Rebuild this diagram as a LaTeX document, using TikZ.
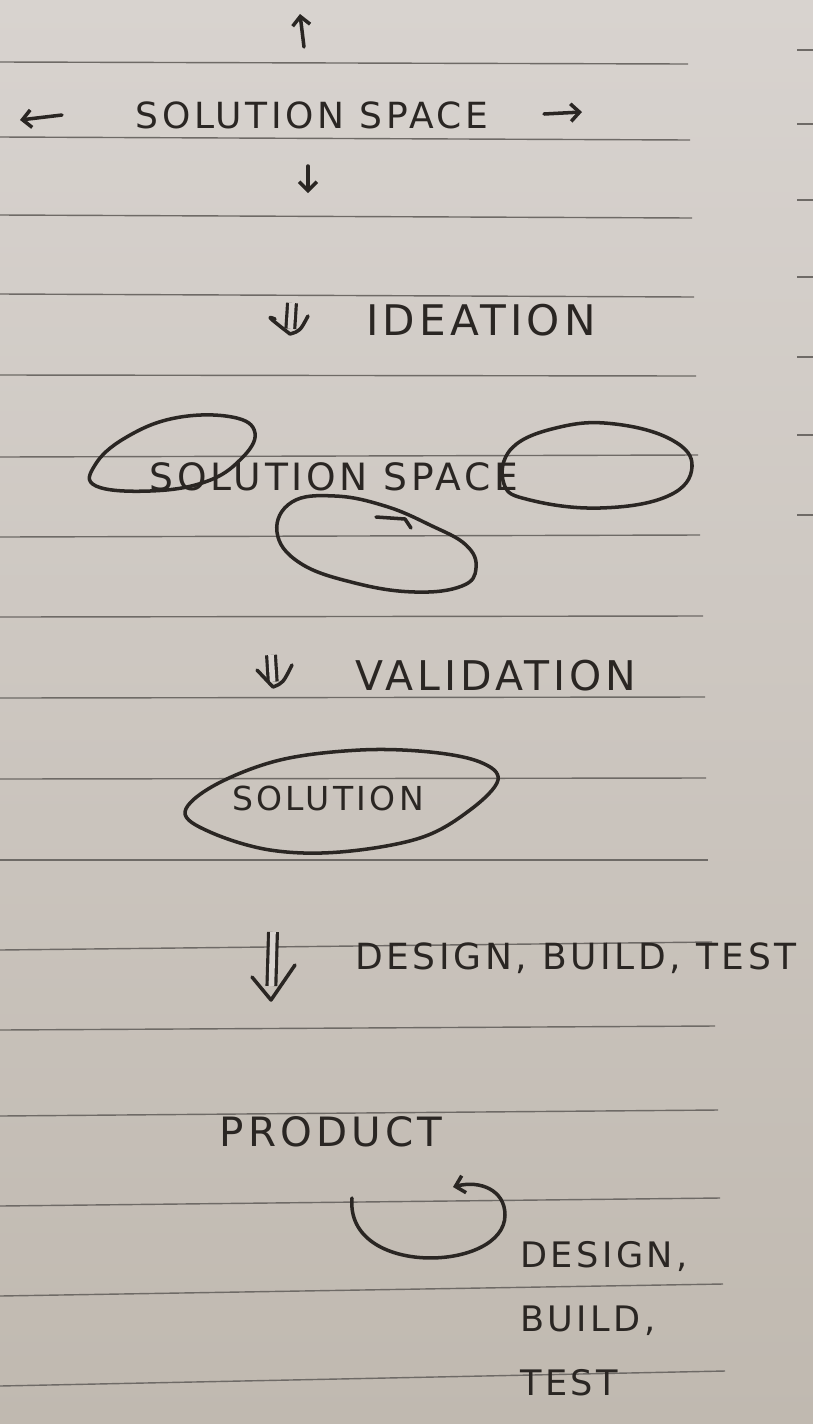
\documentclass[tikz,border=0pt]{standalone}
\usepackage{fontspec}
\usepackage{tikz}
\usetikzlibrary{arrows.meta}
\newfontfamily\handfont[LetterSpace=10]{DejaVu Sans}
\definecolor{paper}{HTML}{D8D3CF}
\definecolor{paperlow}{HTML}{C0B9B0}
\definecolor{rule}{HTML}{6E6A66}
\definecolor{ink}{HTML}{2A2623}
\tikzset{
  ruling/.style={draw=rule, line width=0.8pt},
  pen/.style={draw=ink, line width=2pt, line cap=round, line join=round},
  arr/.style={pen, -{Straight Barb[length=5pt,width=10pt]}},
  dblShaft/.style={draw=ink, line width=1.8pt, double=paper, double distance=3.2pt,
    shorten >=3pt},
  handLbl/.style={text=ink, inner sep=1pt, font=\handfont\fontsize{#1}{36.5}\selectfont},
  handLbl/.default=21,
}

\begin{document}
\begin{tikzpicture}[x=0.02cm, y=-0.02cm]
  \useasboundingbox (0,0) rectangle (813,1424);
  \shade[top color=paper, bottom color=paperlow] (0,0) rectangle (813,1424);

  % ruled paper
  \foreach \yl/\yr/\xr in {62/64/688, 137/140/690, 215/218/692, 294/297/694,
      375/376/696, 457/455/698, 537/535/700, 617/616/703, 698/697/705,
      779/778/706, 860/860/708, 950/942/712, 1030/1026/715, 1116/1110/718,
      1206/1198/720, 1296/1284/723, 1386/1371/725}
    \draw[ruling] (0,\yl) -- (\xr,\yr);
  \foreach \ys in {50,124,200,277,357,435,515}
    \draw[ruling] (797,\ys) -- (813,\ys);

  % solution space, spreading out
  \node[handLbl=20.5] (spaceTop) at (312,115) {SOLUTION SPACE};
  \coordinate (upTail) at (304,47);     \coordinate (upHead) at (300,14);
  \coordinate (leftTail) at (62,115);   \coordinate (leftHead) at (20,120);
  \coordinate (rightTail) at (544,114); \coordinate (rightHead) at (582,112);
  \coordinate (downTail) at (308,166);  \coordinate (downHead) at (308,193);
  \draw[arr] (upTail) -- (upHead);
  \draw[arr] (leftTail) -- (leftHead);
  \draw[arr] (rightTail) -- (rightHead);
  \draw[arr] (downTail) -- (downHead);

  % ideation
  \coordinate (ideaTail) at (292,303); \coordinate (ideaHead) at (290,334);
  \draw[dblShaft] (ideaTail) -- (ideaHead);
  \draw[pen] (ideaHead) +(-15,-15) .. controls +(-8,-3) .. (ideaHead)
    .. controls +(10,-3) .. +(18,-18);
  \node[handLbl=24] (ideation) at (481,320) {IDEATION};

  % several candidate solutions
  \node[handLbl=21.4] (spaceMid) at (334,477) {SOLUTION SPACE};
  \draw[pen] plot[smooth cycle, tension=0.7] coordinates {(96,486) (95,465)
    (125,438) (175,418) (232,417) (255,433) (240,460) (205,482) (150,491)};
  \draw[pen] plot[smooth cycle, tension=0.7] coordinates {(512,448) (560,427)
    (615,424) (672,440) (692,467) (668,496) (600,508) (530,500) (504,484)};
  \draw[pen] plot[smooth cycle, tension=0.7] coordinates {(292,502) (335,496)
    (385,506) (430,525) (466,545) (476,568) (462,586) (415,592) (355,583)
    (300,563) (277,532)};
  \draw[pen] (376,517) -- (405,519) -- (411,528);

  % validation
  \coordinate (valTail) at (271,655); \coordinate (valHead) at (273,687);
  \draw[dblShaft] (valTail) -- (valHead);
  \draw[pen] (valHead) +(-16,-17) -- (valHead) .. controls +(10,-4) .. +(19,-22);
  \node[handLbl=23.3] (validation) at (496,676) {VALIDATION};

  % the one solution
  \node[handLbl=18.8] (solution) at (328,798) {SOLUTION};
  \draw[pen] plot[smooth cycle, tension=0.6] coordinates {(185,812) (215,785)
    (280,760) (360,750) (430,752) (480,762) (498,780) (470,810) (420,838)
    (340,852) (270,850) (210,832)};

  % design, build, test
  \coordinate (dbtTail) at (273,932); \coordinate (dbtHead) at (271,1000);
  \draw[dblShaft, shorten >=8pt] (dbtTail) -- (dbtHead);
  \draw[pen] (dbtHead) +(-19,-23) -- (dbtHead) -- +(24,-35);
  \node[handLbl=20.5] (dbt) at (576,958) {DESIGN, BUILD, TEST};

  % product and its loop
  \node[handLbl=23] (product) at (331,1132) {PRODUCT};
  \coordinate (loopStart) at (352,1198); \coordinate (loopRight) at (505,1215);
  \coordinate (loopEnd) at (453,1187);
  \draw[arr] (loopStart) .. controls (345,1278) and (505,1272) .. (loopRight)
    .. controls (505,1190) and (480,1180) .. (loopEnd);
  \node[handLbl=20, align=left, anchor=north west] (loopLbl) at (518,1239)
    {DESIGN,\\BUILD,\\TEST};
\end{tikzpicture}
\end{document}
